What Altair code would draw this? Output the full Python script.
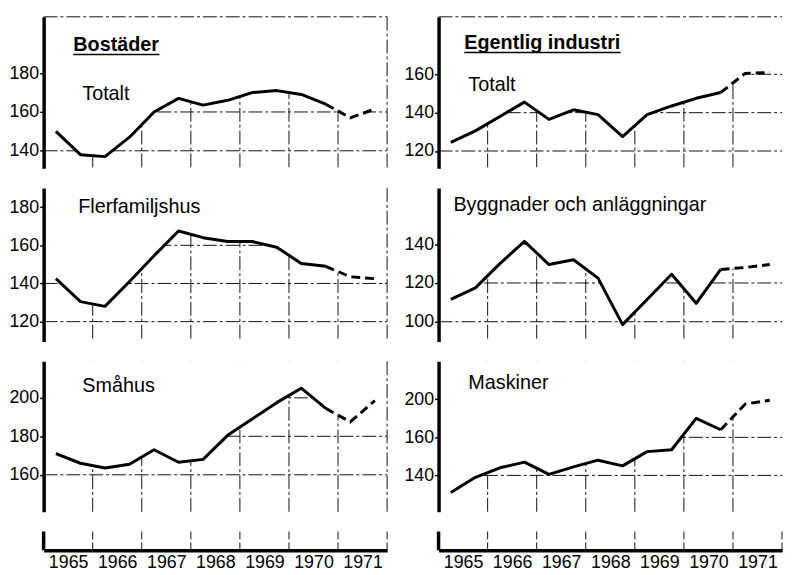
import altair as alt
import pandas as pd

# ---------------- data ----------------
half_years = [1965.25, 1965.75, 1966.25, 1966.75, 1967.25, 1967.75, 1968.25,
              1968.75, 1969.25, 1969.75, 1970.25, 1970.75, 1971.25, 1971.75]
year_bounds = [1966, 1967, 1968, 1969, 1970, 1971]
year_strip = [1966, 1967, 1968, 1969, 1970, 1971, 1972]
year_mids = [1965.5, 1966.5, 1967.5, 1968.5, 1969.5, 1970.5, 1971.5]

bostader_totalt = [150, 138, 137, 147, 160, 167, 163.5, 166, 170, 171, 169, 164, 157, 161.5]
flerfamiljshus = [142.5, 130.5, 128, 141, 154.5, 167.5, 164, 162, 162, 159, 150.5, 149, 143.5, 142.5]
smahus = [171, 166, 163.5, 165.5, 173, 166.5, 168, 180.5, 189, 197.5, 205, 194.5, 187.5, 198.5]
industri_totalt = [124.5, 130.5, 138, 145.5, 136.5, 141.5, 139, 127.5, 139, 143.5, 147.5, 150.5, 160.5, 161]
byggnader = [111.5, 117.5, 130, 141.5, 129.5, 132, 122.5, 98.5, 111.5, 124.5, 109.5, 127, 128, 129.5]
maskiner = [131, 139, 144, 147, 140.5, 144.5, 148, 145, 152.5, 153.5, 170, 164, 177.5, 179.5]

ticks_bostader_totalt = [140, 160, 180]
ticks_flerfamiljshus = [120, 140, 160, 180]
ticks_smahus = [160, 180, 200]
ticks_industri_totalt = [120, 140, 160]
ticks_byggnader = [100, 120, 140]
ticks_maskiner = [140, 160, 180]
maskiner_tick_labels = ["140", "160", "200"]   # as printed in the original

FORECAST_FROM = 11  # index from which the line is dashed (forecast)

# ---------------- style ----------------
FONT = "Liberation Sans"
W = 347
ROW_H = [153, 155, 152]
STRIP_H = 19
GRID_DASH = [14, 3, 3, 3]
GRID_COLOR = "#111111"
XS = alt.Scale(domain=[1965, 1972], nice=False, zero=False)


def panel(values, ticks, ydomain, texts, H, top=False, right=False, tick_labels=None):
    ys = alt.Scale(domain=ydomain, nice=False, zero=False)
    df = pd.DataFrame({"t": half_years, "v": values, "i": list(range(len(values)))})
    solid = df[df.i <= FORECAST_FROM]
    dashed = df[df.i >= FORECAST_FROM]
    mask = pd.concat([
        pd.DataFrame({"t": [1965.0], "v": [values[0]]}),
        df[["t", "v"]],
        pd.DataFrame({"t": [1972.0], "v": [values[-1]]}),
    ]).reset_index(drop=True)

    axis_kw = dict(values=ticks, title=None, grid=False, domain=True, domainColor="black",
                   domainWidth=3.5, ticks=True, tickSize=4, tickWidth=1.5, tickColor="black",
                   labelFont=FONT, labelFontSize=18, labelColor="black", labelPadding=1,
                   labelOverlap=False, labelFlush=False, zindex=1)
    if tick_labels is not None:
        expr = " : ".join(
            f"datum.value == {v} ? '{lab}'" for v, lab in zip(ticks, tick_labels)
        ) + " : datum.label"
        axis_kw["labelExpr"] = expr
    yaxis = alt.Axis(**axis_kw)

    hgrid = alt.Chart(pd.DataFrame({"v": ticks})).mark_rule(
        color=GRID_COLOR, strokeWidth=1, strokeDash=GRID_DASH).encode(
        y=alt.Y("v:Q", scale=ys, axis=yaxis), x=alt.value(0), x2=alt.value(W))
    vgrid = alt.Chart(pd.DataFrame({"t": year_bounds})).mark_rule(
        color=GRID_COLOR, strokeWidth=1, strokeDash=GRID_DASH).encode(
        x=alt.X("t:Q", scale=XS, axis=None), y=alt.value(0), y2=alt.value(H))
    maskc = alt.Chart(mask).mark_area(color="white", opacity=1).encode(
        x=alt.X("t:Q", scale=XS, axis=None),
        y=alt.Y("v:Q", scale=ys, axis=None), y2=alt.datum(ydomain[1]))
    line_s = alt.Chart(solid).mark_line(color="black", strokeWidth=3, strokeJoin="round").encode(
        x=alt.X("t:Q", scale=XS, axis=None), y=alt.Y("v:Q", scale=ys, axis=None))
    line_d = alt.Chart(dashed).mark_line(color="black", strokeWidth=3, strokeDash=[9, 5]).encode(
        x=alt.X("t:Q", scale=XS, axis=None), y=alt.Y("v:Q", scale=ys, axis=None))
    layers = [hgrid, vgrid, maskc, line_s, line_d]

    if top:
        layers.append(alt.Chart(pd.DataFrame({"k": [0]})).mark_rule(
            color=GRID_COLOR, strokeWidth=1, strokeDash=GRID_DASH).encode(
            x=alt.value(0), x2=alt.value(W), y=alt.value(0)))
    if right:
        layers.append(alt.Chart(pd.DataFrame({"t": [1972]})).mark_rule(
            color=GRID_COLOR, strokeWidth=1, strokeDash=GRID_DASH).encode(
            x=alt.X("t:Q", scale=XS, axis=None), y=alt.value(0), y2=alt.value(H)))

    for (s, x, y, bold, ul) in texts:
        layers.append(alt.Chart(pd.DataFrame({"s": [s]})).mark_text(
            align="left", baseline="alphabetic", font=FONT, fontSize=20,
            fontWeight="bold" if bold else "normal", color="black").encode(
            text="s:N", x=alt.value(x), y=alt.value(y)))
        if ul:
            layers.append(alt.Chart(pd.DataFrame({"k": [0]})).mark_rule(
                color="black", strokeWidth=1.6).encode(
                x=alt.value(x), x2=alt.value(x + ul), y=alt.value(y + 3)))

    return alt.layer(*layers).resolve_axis(
        x="independent", y="independent").properties(width=W, height=H)


def strip():
    rules = alt.Chart(pd.DataFrame({"t": year_strip})).mark_rule(
        color=GRID_COLOR, strokeWidth=1, strokeDash=[8, 3]).encode(
        x=alt.X("t:Q", scale=XS, axis=alt.Axis(
            values=year_mids, labelExpr="'' + floor(datum.value)", title=None,
            grid=False, ticks=False, domain=True, domainColor="black", domainWidth=3.5,
            labelFont=FONT, labelFontSize=18, labelColor="black", labelPadding=3,
            labelOverlap=False, labelFlush=False, labelBound=False, zindex=1)),
        y=alt.value(0), y2=alt.value(STRIP_H))
    left = alt.Chart(pd.DataFrame({"t": [1965]})).mark_rule(
        color="black", strokeWidth=3.5).encode(
        x=alt.X("t:Q", scale=XS, axis=None), y=alt.value(0), y2=alt.value(STRIP_H))
    return alt.layer(rules, left).resolve_axis(
        x="independent", y="independent").properties(width=W, height=STRIP_H)


p1l = panel(bostader_totalt, ticks_bostader_totalt, [131, 209],
            [("Bostäder", 30, 35, True, 87), ("Totalt", 39, 84, False, 0)],
            ROW_H[0], top=True, right=True)
p1r = panel(industri_totalt, ticks_industri_totalt, [111, 190],
            [("Egentlig industri", 26, 33, True, 158), ("Totalt", 30, 75, False, 0)],
            ROW_H[0], top=True)
p2l = panel(flerfamiljshus, ticks_flerfamiljshus, [109.6, 190],
            [("Flerfamiljshus", 35, 25, False, 0)], ROW_H[1], right=True)
p2r = panel(byggnader, ticks_byggnader, [89.8, 169],
            [("Byggnader och anläggningar", 15, 23, False, 0)], ROW_H[1])
p3l = panel(smahus, ticks_smahus, [140.8, 219],
            [("Småhus", 39, 31, False, 0)], ROW_H[2], right=True)
p3r = panel(maskiner, ticks_maskiner, [120.9, 200],
            [("Maskiner", 30, 28, False, 0)], ROW_H[2], tick_labels=maskiner_tick_labels)

chart = alt.concat(
    p1l, p1r, p2l, p2r, p3l, p3r, strip(), strip(),
    columns=2, spacing={"row": 20, "column": 52}, bounds="flush",
).resolve_scale(x="independent", y="independent").properties(
    padding={"left": 0, "top": 5, "right": 2, "bottom": 0},
    background="white",
).configure_view(stroke=None)

chart.save("out.html", embed_options={"renderer": "svg", "actions": False})
